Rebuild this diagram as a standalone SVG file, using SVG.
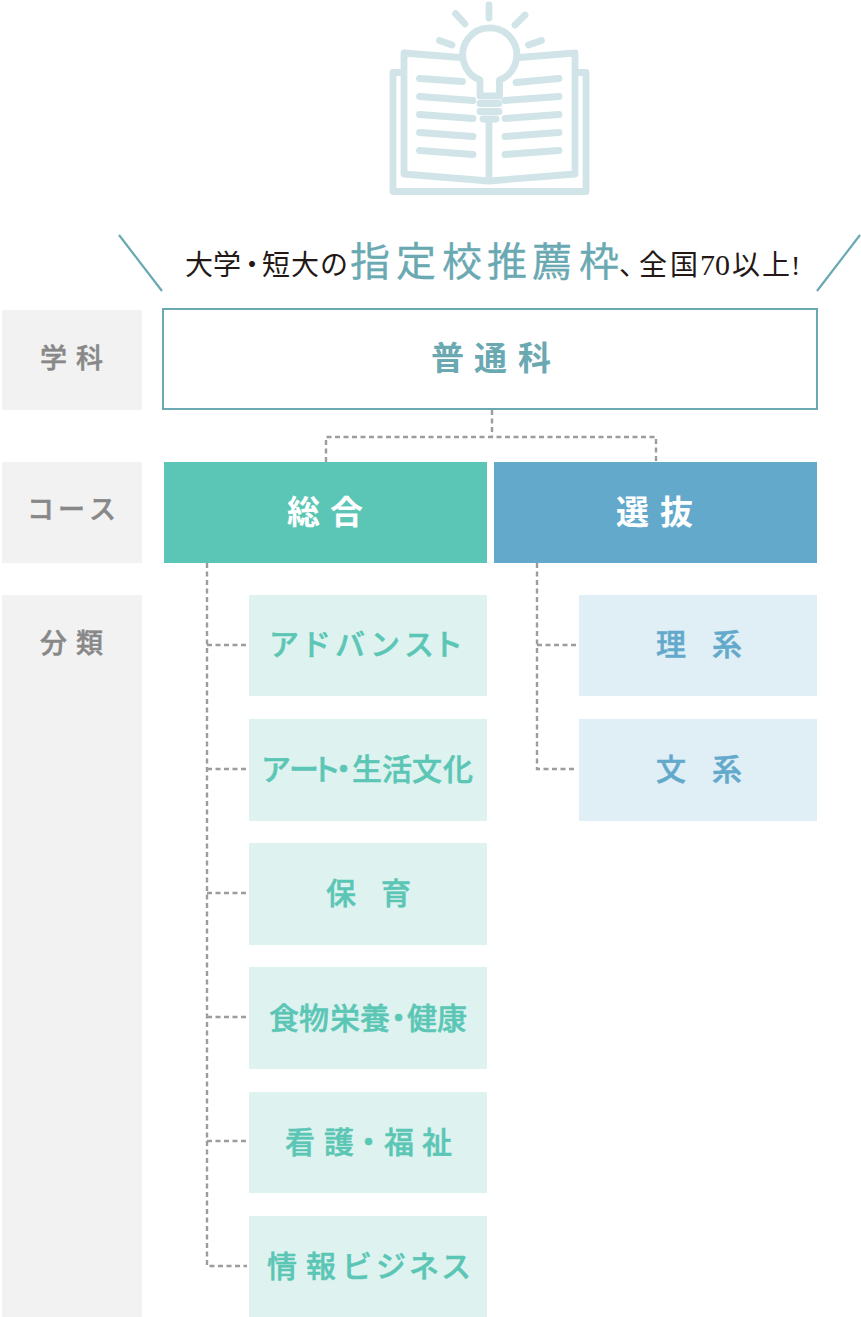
<svg xmlns="http://www.w3.org/2000/svg" width="861" height="1317" viewBox="0 0 861 1317">
<style>
text{font-family:"Noto Sans CJK JP","Noto Sans",sans-serif;}
.ic{fill:none;stroke:#d1e4e8;stroke-width:6.800;stroke-linecap:round;stroke-linejoin:round}
.lab{fill:#f2f2f2}
.labt{fill:#888;stroke:#888;stroke-width:.5;font-size:27px;font-weight:500}
.g{fill:#def3ef}.b{fill:#e0eef5}
.gt{fill:#5bc6b5;stroke:#5bc6b5;stroke-width:.5;font-size:30px;font-weight:500}
.bt{fill:#63a9cb;stroke:#63a9cb;stroke-width:.5;font-size:30px;font-weight:500}
.wt{fill:#fff;font-size:33px;font-weight:700}
.d{fill:none;stroke:#9c9c9c;stroke-width:2.400;stroke-dasharray:5 3.500}
.h{fill:#231815;font-size:28px;font-family:"Liberation Serif","Noto Sans CJK JP",serif}
.hb{fill:#6aa9b2;stroke:#6aa9b2;stroke-width:.3;font-size:40px;font-family:"Liberation Serif","Noto Sans CJK JP",serif}
.sl{fill:none;stroke:#6aa9b2;stroke-width:2.200}
</style>
<g id="icon" class="ic">
<path d="M489 5V18M455.500 13.500L465 24M525 15L515 25M439.500 40.500L452 45M541.500 40.500L528.500 45"/>
<path d="M480 80A27 27 0 1 1 499.500 80V96H480Z"/>
<path d="M460 57.500L404 53V174L489 181L575 174V53L519 57.500M489 122V178"/>
<path d="M400 72.500H393V191.500H586V72.500H578"/>
<path d="M419.500 78.500L462.500 81.500M419.500 96.500L473 100.500M419.500 114.500L473 118.500M419.500 132.500L473 136.500M419.500 150.500L473 154.500M559 78.500L516 82.500M559 96.500L505 100.500M559 114.500L505 118.500M559 132.500L505 136.500M559 150.500L505 154.500"/>
<path d="M480 103.500H499M480 111.500H499M483 119H496"/>
</g>
<g id="heading">
<path class="sl" d="M119 235L162 291M860 235L817 291"/>
<text class="h" y="275" x="185 213 238 262 291 320">大学・短大の</text>
<text class="hb" y="276" x="350 396 442 487 532 579">指定校推薦枠</text>
<text class="h" y="275" x="619 639 670">、全国</text>
<text class="h" y="275" x="700 715" style="font-size:30px">70</text>
<text class="h" y="275" x="732 762 791">以上!</text>
</g>
<g id="connectors">
<path class="d" d="M492 410V437M326 462V437H656V462"/>
<path class="d" d="M207 563V1266H247M207 645H247M207 769H247M207 893H247M207 1017H247M207 1141H247"/>
<path class="d" d="M537 563V769H577M537 645H577"/>
</g>
<g id="label-gakka"><rect class="lab" x="2" y="310" width="140" height="100"/><text class="labt" y="368" x="40 76">学科</text></g>
<g id="label-course"><rect class="lab" x="2" y="462" width="140" height="101"/><text class="labt" y="519" x="27 58 89">コース</text></g>
<g id="label-bunrui"><rect class="lab" x="2" y="595" width="140" height="722"/><text class="labt" y="653" x="40 76">分類</text></g>
<g id="futsuka"><rect x="163" y="309" width="654" height="100" fill="#fff" stroke="#6aa9b2" stroke-width="2"/><text y="370" x="431 474 518" fill="#6aa9b2" font-size="33" font-weight="700">普通科</text></g>
<g id="sogo"><rect x="164" y="462" width="323" height="101" fill="#5bc6b5"/><text class="wt" y="524" x="287 330">総合</text></g>
<g id="senbatsu"><rect x="494" y="462" width="323" height="101" fill="#63a9cb"/><text class="wt" y="524" x="616 660">選抜</text></g>
<g id="advance"><rect class="g" x="249" y="595" width="238" height="101"/><text class="gt" y="655" x="269 301 335 370 404 433">アドバンスト</text></g>
<g id="art"><rect class="g" x="249" y="719" width="238" height="102"/><text class="gt" y="780" x="261 289 311 328.500 352 382 412 443">アート・生活文化</text></g>
<g id="hoiku"><rect class="g" x="249" y="843" width="238" height="102"/><text class="gt" y="904" x="326 381">保育</text></g>
<g id="shoku"><rect class="g" x="249" y="967" width="238" height="102"/><text class="gt" y="1029" x="269 299 330 360 383.500 407 437">食物栄養・健康</text></g>
<g id="kango"><rect class="g" x="249" y="1092" width="238" height="101"/><text class="gt" y="1153" x="285 324 353.500 384 422">看護・福祉</text></g>
<g id="joho"><rect class="g" x="249" y="1216" width="238" height="101"/><text class="gt" y="1277" x="267 306 342 376 409 441">情報ビジネス</text></g>
<g id="rikei"><rect class="b" x="579" y="595" width="238" height="101"/><text class="bt" y="655" x="656 712">理系</text></g>
<g id="bunkei"><rect class="b" x="579" y="719" width="238" height="102"/><text class="bt" y="780" x="656 712">文系</text></g>
</svg>
